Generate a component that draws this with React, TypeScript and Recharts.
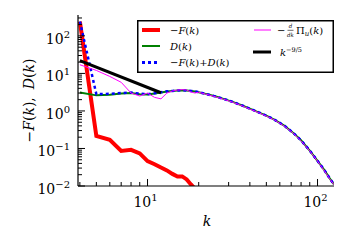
import React from 'react';
import { LineChart, Line, XAxis, YAxis, Legend } from 'recharts';

const FONT = '"DejaVu Serif", serif';

// -F(k)
const kF = [4, 5, 6, 7, 8, 9, 10, 11, 12, 13, 14, 15, 16, 17, 18, 19, 20];
const negF = [240, 0.215, 0.17, 0.086, 0.092, 0.074, 0.046, 0.038, 0.031, 0.026, 0.021, 0.018, 0.018, 0.015, 0.011, 0.0085, 0.007];

// D(k)
const kD = [4, 5, 6, 7, 8, 9, 10, 11, 12, 13, 14, 15, 16, 17, 18, 19, 20, 22, 25, 28, 32, 36, 40, 45, 50, 56, 64, 72, 80, 90, 100, 110, 118, 125];
const dVals = [3.1, 2.6, 2.7, 2.9, 3.0, 2.8, 2.75, 2.9, 3.1, 3.3, 3.4, 3.5, 3.55, 3.5, 3.4, 3.3, 3.15, 2.85, 2.45, 2.1, 1.72, 1.4, 1.15, 0.92, 0.75, 0.58, 0.4, 0.26, 0.165, 0.088, 0.047, 0.026, 0.016, 0.011];

// -F(k)+D(k)
const kSum = kD;
const sumVals = [243, 2.8, 2.87, 2.99, 3.09, 2.87, 2.8, 2.94, 3.13, 3.33, 3.42, 3.52, 3.57, 3.51, 3.41, 3.31, 3.16, 2.85, 2.45, 2.1, 1.72, 1.4, 1.15, 0.92, 0.75, 0.58, 0.4, 0.26, 0.165, 0.088, 0.047, 0.026, 0.016, 0.011];

// -d/dk Pi_u(k)
const kPi = [4, 5, 6, 7, 8, 9, 10, 11, 12, 13, 14, 15, 16, 17, 18, 19, 20, 22, 25, 28, 32, 36, 40, 45, 50, 56, 64, 72, 80, 90, 100, 110, 118, 125];
const piVals = [17, 12, 8.3, 5.8, 3.0, 2.5, 3.0, 2.3, 2.1, 3.0, 3.4, 3.6, 3.7, 3.6, 3.2, 3.0, 3.15, 2.8, 2.4, 2.05, 1.68, 1.37, 1.12, 0.9, 0.73, 0.57, 0.39, 0.255, 0.16, 0.086, 0.046, 0.025, 0.0155, 0.0108];

// k^(-9/5) guide
const kFit = [4, 12];
const fitVals = [22, 3.05];

const xMajor = [10, 100];
const xMinor = [4, 5, 6, 7, 8, 9, 20, 30, 40, 50, 60, 70, 80, 90];
const yMajor = [0.01, 0.1, 1, 10, 100];
const yMinor = [0.02, 0.03, 0.04, 0.05, 0.06, 0.07, 0.08, 0.09, 0.2, 0.3, 0.4, 0.5, 0.6, 0.7, 0.8, 0.9, 2, 3, 4, 5, 6, 7, 8, 9, 20, 30, 40, 50, 60, 70, 80, 90, 200, 300];

const xDomain = [3.9, 125];
const yDomain = [0.01, 360];

const zip = (ks: number[], vs: number[]) => ks.map((k, i) => ({ k, v: vs[i] }));
const dataF = zip(kF, negF);
const dataD = zip(kD, dVals);
const dataSum = zip(kSum, sumVals);
const dataPi = zip(kPi, piVals);
const dataFit = zip(kFit, fitVals);

const isMajor = (v: number) => Math.abs(Math.log10(v) - Math.round(Math.log10(v))) < 1e-6;
const expOf = (v: number) => {
  const e = Math.round(Math.log10(v));
  return e < 0 ? '\u2212' + Math.abs(e) : String(e);
};

const MAJ = 7;
const MIN = 4;

const BottomTick = (props: any) => {
  const { x, y, payload } = props;
  const v = payload.value;
  const maj = isMajor(v);
  return (
    <g>
      <line x1={x} x2={x} y1={y} y2={y - (maj ? MAJ : MIN)} stroke="#000" strokeWidth={1} />
      {maj && (
        <text x={x - 2} y={y + 21} textAnchor="middle" fontFamily={FONT} fontSize={14} fill="#000">
          10<tspan dy={-6} fontSize={10}>{expOf(v)}</tspan>
        </text>
      )}
    </g>
  );
};

const TopTick = (props: any) => {
  const { x, y, payload } = props;
  const maj = isMajor(payload.value);
  return <line x1={x} x2={x} y1={y} y2={y + (maj ? MAJ : MIN)} stroke="#000" strokeWidth={1} />;
};

const LeftTick = (props: any) => {
  const { x, y, payload } = props;
  const v = payload.value;
  const maj = isMajor(v);
  return (
    <g>
      <line x1={x} x2={x + (maj ? MAJ : MIN)} y1={y} y2={y} stroke="#000" strokeWidth={1} />
      {maj && (
        <text x={x - 8} y={y + 8} textAnchor="end" fontFamily={FONT} fontSize={14} fill="#000">
          10<tspan dy={-6} fontSize={10}>{expOf(v)}</tspan>
        </text>
      )}
    </g>
  );
};

const RightTick = (props: any) => {
  const { x, y, payload } = props;
  const maj = isMajor(payload.value);
  return <line x1={x} x2={x - (maj ? MAJ : MIN)} y1={y} y2={y} stroke="#000" strokeWidth={1} />;
};

const XLabel = (props: any) => {
  const vb = props.viewBox || { x: 78, y: 186, width: 256, height: 64 };
  return (
    <text x={vb.x + vb.width / 2 + 1} y={vb.y + 40} textAnchor="middle" fontFamily={FONT} fontSize={14} fontStyle="italic" fill="#000">
      k
    </text>
  );
};

const YLabel = (props: any) => {
  const vb = props.viewBox || { x: 0, y: 15, width: 78, height: 171 };
  const cx = 34;
  const cy = vb.y + vb.height / 2;
  return (
    <text x={cx} y={cy} transform={`rotate(-90 ${cx} ${cy})`} textAnchor="middle" fontFamily={FONT} fontSize={14} fill="#000">
      {'\u2212'}<tspan fontStyle="italic">F</tspan>(<tspan fontStyle="italic">k</tspan>),<tspan dx={8} fontStyle="italic">D</tspan>(<tspan fontStyle="italic">k</tspan>)
    </text>
  );
};

const LegendBox = () => {
  const fs = 10;
  return (
    <svg width={197} height={53} style={{ display: 'block' }}>
      <rect x={0.75} y={0.75} width={195.5} height={51.5} fill="#fff" stroke="#000" strokeWidth={1.5} />
      <line x1={5} x2={23} y1={10} y2={10} stroke="#ff0000" strokeWidth={4} />
      <text x={33} y={13.5} fontFamily={FONT} fontSize={fs} fill="#000">
        {'\u2212'}<tspan fontStyle="italic">F</tspan>(<tspan fontStyle="italic">k</tspan>)
      </text>
      <line x1={5} x2={23} y1={26} y2={26} stroke="#008000" strokeWidth={2} />
      <text x={33} y={29.5} fontFamily={FONT} fontSize={fs} fill="#000">
        <tspan fontStyle="italic">D</tspan>(<tspan fontStyle="italic">k</tspan>)
      </text>
      <line x1={5} x2={23} y1={42.5} y2={42.5} stroke="#0000ff" strokeWidth={3} strokeDasharray="3 3" />
      <text x={33} y={46} fontFamily={FONT} fontSize={fs} fill="#000">
        {'\u2212'}<tspan fontStyle="italic">F</tspan>(<tspan fontStyle="italic">k</tspan>)+<tspan fontStyle="italic">D</tspan>(<tspan fontStyle="italic">k</tspan>)
      </text>
      <line x1={117} x2={134} y1={10} y2={10} stroke="#ff00ff" strokeWidth={1} />
      <text x={140} y={13.5} fontFamily={FONT} fontSize={fs} fill="#000">{'\u2212'}</text>
      <text x={153.5} y={8} fontFamily={FONT} fontSize={5.5} fontStyle="italic" fill="#000" textAnchor="middle">d</text>
      <line x1={150.5} x2={156.5} y1={10.3} y2={10.3} stroke="#000" strokeWidth={0.6} />
      <text x={153.5} y={16.5} fontFamily={FONT} fontSize={5.5} fontStyle="italic" fill="#000" textAnchor="middle">dk</text>
      <text x={159} y={13.5} fontFamily={FONT} fontSize={fs} fill="#000">
        Π<tspan dy={2} fontSize={7} fontStyle="italic">u</tspan><tspan dy={-2}>(</tspan><tspan fontStyle="italic">k</tspan>)
      </text>
      <line x1={116} x2={134} y1={32} y2={32} stroke="#000" strokeWidth={3} />
      <text x={143} y={35.5} fontFamily={FONT} fontSize={fs} fill="#000">
        <tspan fontStyle="italic">k</tspan><tspan dy={-4} fontSize={6.5}>{'\u2212'}9/5</tspan>
      </text>
    </svg>
  );
};

export default function App() {
  return (
    <div style={{ position: 'absolute', left: 0, top: 0, width: 350, height: 250, background: '#fff' }}>
      <LineChart width={350} height={250} margin={{ top: 15, right: 16, bottom: 0, left: 0 }}>
        <XAxis
          xAxisId="b"
          dataKey="k"
          type="number"
          scale="log"
          domain={xDomain}
          allowDataOverflow
          ticks={[...xMinor, ...xMajor]}
          interval={0}
          tick={BottomTick}
          tickLine={false}
          tickSize={0}
          tickMargin={0}
          height={64}
          axisLine={{ stroke: '#000', strokeWidth: 1.2 }}
          label={<XLabel />}
        />
        <XAxis
          xAxisId="t"
          orientation="top"
          dataKey="k"
          type="number"
          scale="log"
          domain={xDomain}
          allowDataOverflow
          ticks={[...xMinor, ...xMajor]}
          interval={0}
          tick={TopTick}
          tickLine={false}
          tickSize={0}
          tickMargin={0}
          height={0}
          axisLine={{ stroke: '#000', strokeWidth: 1.2 }}
        />
        <YAxis
          yAxisId="l"
          dataKey="v"
          type="number"
          scale="log"
          domain={yDomain}
          allowDataOverflow
          ticks={[...yMinor, ...yMajor]}
          interval={0}
          tick={LeftTick}
          tickLine={false}
          tickSize={0}
          tickMargin={0}
          width={78}
          axisLine={{ stroke: '#000', strokeWidth: 1.2 }}
          label={<YLabel />}
        />
        <YAxis
          yAxisId="r"
          orientation="right"
          dataKey="v"
          type="number"
          scale="log"
          domain={yDomain}
          allowDataOverflow
          ticks={[...yMinor, ...yMajor]}
          interval={0}
          tick={RightTick}
          tickLine={false}
          tickSize={0}
          tickMargin={0}
          width={0}
          axisLine={{ stroke: '#000', strokeWidth: 1.2 }}
        />
        <Line xAxisId="b" yAxisId="l" data={dataF} dataKey="v" type="linear" stroke="#ff0000" strokeWidth={4} dot={false} isAnimationActive={false} strokeLinejoin="miter" />
        <Line xAxisId="b" yAxisId="l" data={dataD} dataKey="v" type="linear" stroke="#008000" strokeWidth={2} dot={false} isAnimationActive={false} />
        <Line xAxisId="b" yAxisId="l" data={dataSum} dataKey="v" type="linear" stroke="#0000ff" strokeWidth={2.5} strokeDasharray="3 3" dot={false} isAnimationActive={false} />
        <Line xAxisId="b" yAxisId="l" data={dataPi} dataKey="v" type="linear" stroke="#ff00ff" strokeWidth={1} dot={false} isAnimationActive={false} />
        <Line xAxisId="b" yAxisId="l" data={dataFit} dataKey="v" type="linear" stroke="#000000" strokeWidth={3} dot={false} isAnimationActive={false} />
        <Legend
          layout="horizontal"
          verticalAlign="middle"
          align="center"
          content={() => <LegendBox />}
          wrapperStyle={{ left: 137, top: 20, width: 197, height: 53, margin: 0, padding: 0 }}
        />
      </LineChart>
    </div>
  );
}
